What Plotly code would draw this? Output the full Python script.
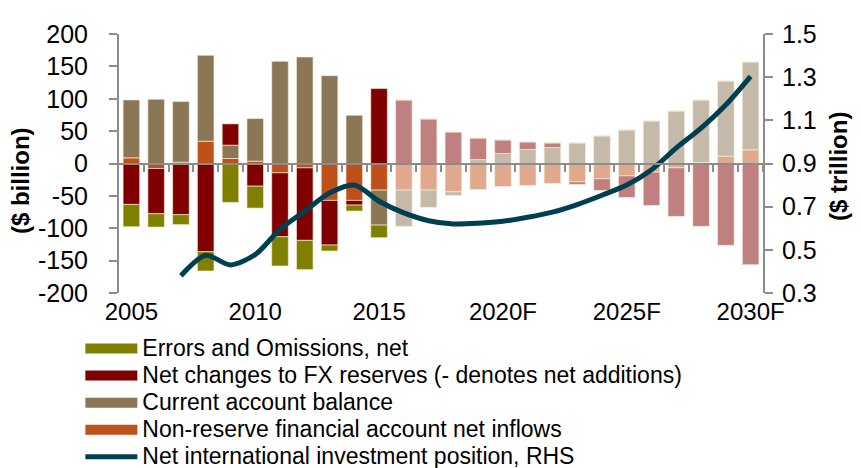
import plotly.graph_objects as go

# years on the x axis, forecast from 2016 on
years = list(range(2005, 2031))
tick_years = [2005, 2010, 2015, 2020, 2025, 2030]
tick_labels = ["2005", "2010", "2015", "2020F", "2025F", "2030F"]
first_forecast = 2016

# $ billion
errors = [-34.4, -20.6, -15.4, -29.8, -60.1, -33.9, -45.2, -45.2, -9.3, -9.3, -19.5,
          0, 0, 0, 0, 0, 0, 0, 0, 0, 0, 0, 0, 0, 0, 0]
fx_reserves = [-63.2, -69.9, -79.0, -136.2, 32.9, -35.0, -98.7, -112.0, -68.9, -7.2, 115.7,
               98.2, 68.9, 48.8, 33.4, 21.1, 11.8, 7.2, -4.1, -18.0, -33.4, -51.4, -75.0, -97.1, -126.4, -156.3]
current_account = [89.5, 99.2, 93.6, 132.7, 20.6, 65.8, 157.8, 164.5, 135.7, 74.5, -54.0,
                   -56.0, -26.7, -5.7, 6.0, 15.4, 21.6, 24.7, 31.9, 42.7, 51.9, 65.8, 81.2, 96.7, 116.2, 135.7]
non_reserve = [8.7, -7.7, 2.0, 34.4, 7.7, 3.6, -14.4, -6.7, -57.0, -57.0, -41.1,
               -41.1, -41.1, -43.7, -40.1, -35.5, -33.9, -30.8, -28.3, -23.6, -19.0, -13.4, -6.7, 1.5, 11.3, 21.1]
# $ trillion, RHS
niip = [None, None, 0.38, 0.475, 0.43, 0.478, 0.595, 0.679, 0.763, 0.80, 0.725,
        0.671, 0.635, 0.62, 0.623, 0.632, 0.651, 0.675, 0.71, 0.753, 0.80, 0.871, 0.972, 1.064, 1.172, 1.304]

left_ticks = [-200, -150, -100, -50, 0, 50, 100, 150, 200]
right_ticks = [0.3, 0.5, 0.7, 0.9, 1.1, 1.3, 1.5]

FONT = "Liberation Sans, Arial, sans-serif"
AXIS = "#8c8c8c"


def legend_label(text):
    # bigger glyphs than the legend row height would give
    return f"<span style='font-size:23px'>{text}</span>"


# (name, values, actual colour, forecast colour)
series = [
    ("Non-reserve financial account net inflows", non_reserve, "#c0501a", "#e0a88c"),
    ("Current account balance", current_account, "#8b7755", "#c5baa9"),
    ("Net changes to FX reserves (- denotes net additions)", fx_reserves, "#800000", "#c08080"),
    ("Errors and Omissions, net", errors, "#808000", "#c0c080"),
]

fig = go.Figure()

for name, vals, col, col_f in series:
    fig.add_trace(go.Bar(
        x=years, y=vals, name=name, showlegend=False,
        marker=dict(color=[col if yr < first_forecast else col_f for yr in years],
                    line=dict(color="rgba(245,240,220,0.8)", width=0.8)),
    ))

fig.add_trace(go.Scatter(
    x=years, y=niip, yaxis="y2", mode="lines", showlegend=False,
    line=dict(color="#003f52", width=5, shape="spline", smoothing=0.8),
))

# legend entries, in the reference order
for name, vals, col, col_f in reversed(series):
    fig.add_trace(go.Scatter(x=[None], y=[None], mode="lines", name=legend_label(name),
                             line=dict(color=col, width=13)))
fig.add_trace(go.Scatter(x=[None], y=[None], mode="lines",
                         name=legend_label("Net international investment position, RHS"),
                         line=dict(color="#003f52", width=5)))

# helper trace so the zero-line x axis gets drawn
fig.add_trace(go.Scatter(x=[years[0] - 0.5, years[-1] + 0.5], y=[0, 0], xaxis="x2",
                         mode="lines", opacity=0, showlegend=False, hoverinfo="skip"))

fig.update_layout(
    width=861, height=468,
    margin=dict(l=111, r=106, t=26, b=183, autoexpand=False),
    paper_bgcolor="white", plot_bgcolor="white",
    barmode="relative", bargap=0.33,
    font=dict(family=FONT, size=25, color="black"),
    xaxis=dict(range=[years[0] - 0.5, years[-1] + 0.5], tickvals=tick_years, ticktext=tick_labels,
               showline=False, showgrid=False, zeroline=False, ticks="", ticklabelstandoff=2,
               tickfont=dict(size=24)),
    xaxis2=dict(overlaying="x", anchor="free", position=0.5, matches="x",
                tickvals=[y + 0.5 for y in years], showticklabels=False,
                showline=True, linecolor=AXIS, linewidth=2, ticks="outside", ticklen=7,
                tickcolor=AXIS, tickwidth=2, showgrid=False, zeroline=False),
    yaxis=dict(range=[-200, 200], tickvals=left_ticks, ticktext=[str(v) for v in left_ticks],
               showgrid=False, zeroline=False,
               showline=True, linecolor=AXIS, linewidth=2, ticks="outside", ticklen=8,
               tickcolor=AXIS, tickwidth=2, ticklabelstandoff=16),
    yaxis2=dict(range=[0.3, 1.5], tickvals=right_ticks, ticktext=[f"{v:.1f}" for v in right_ticks],
                overlaying="y", side="right",
                showgrid=False, zeroline=False, showline=True, linecolor=AXIS, linewidth=2,
                ticks="outside", ticklen=8, tickcolor=AXIS, tickwidth=2, ticklabelstandoff=4),
    legend=dict(orientation="v", x=-0.06, y=-0.143, xanchor="left", yanchor="top",
                font=dict(size=18.5), itemwidth=52, tracegroupgap=0, bgcolor="rgba(0,0,0,0)"),
    annotations=[
        dict(text="<b>($ billion)</b>", xref="paper", yref="paper", x=-0.153, y=0.434,
             xanchor="center", yanchor="middle",
             textangle=-90, showarrow=False, font=dict(size=24)),
        dict(text="<b>($ trillion)</b>", xref="paper", yref="paper", x=1.117, y=0.488,
             xanchor="center", yanchor="middle",
             textangle=-90, showarrow=False, font=dict(size=24)),
    ],
)

fig.write_html("out.html")
